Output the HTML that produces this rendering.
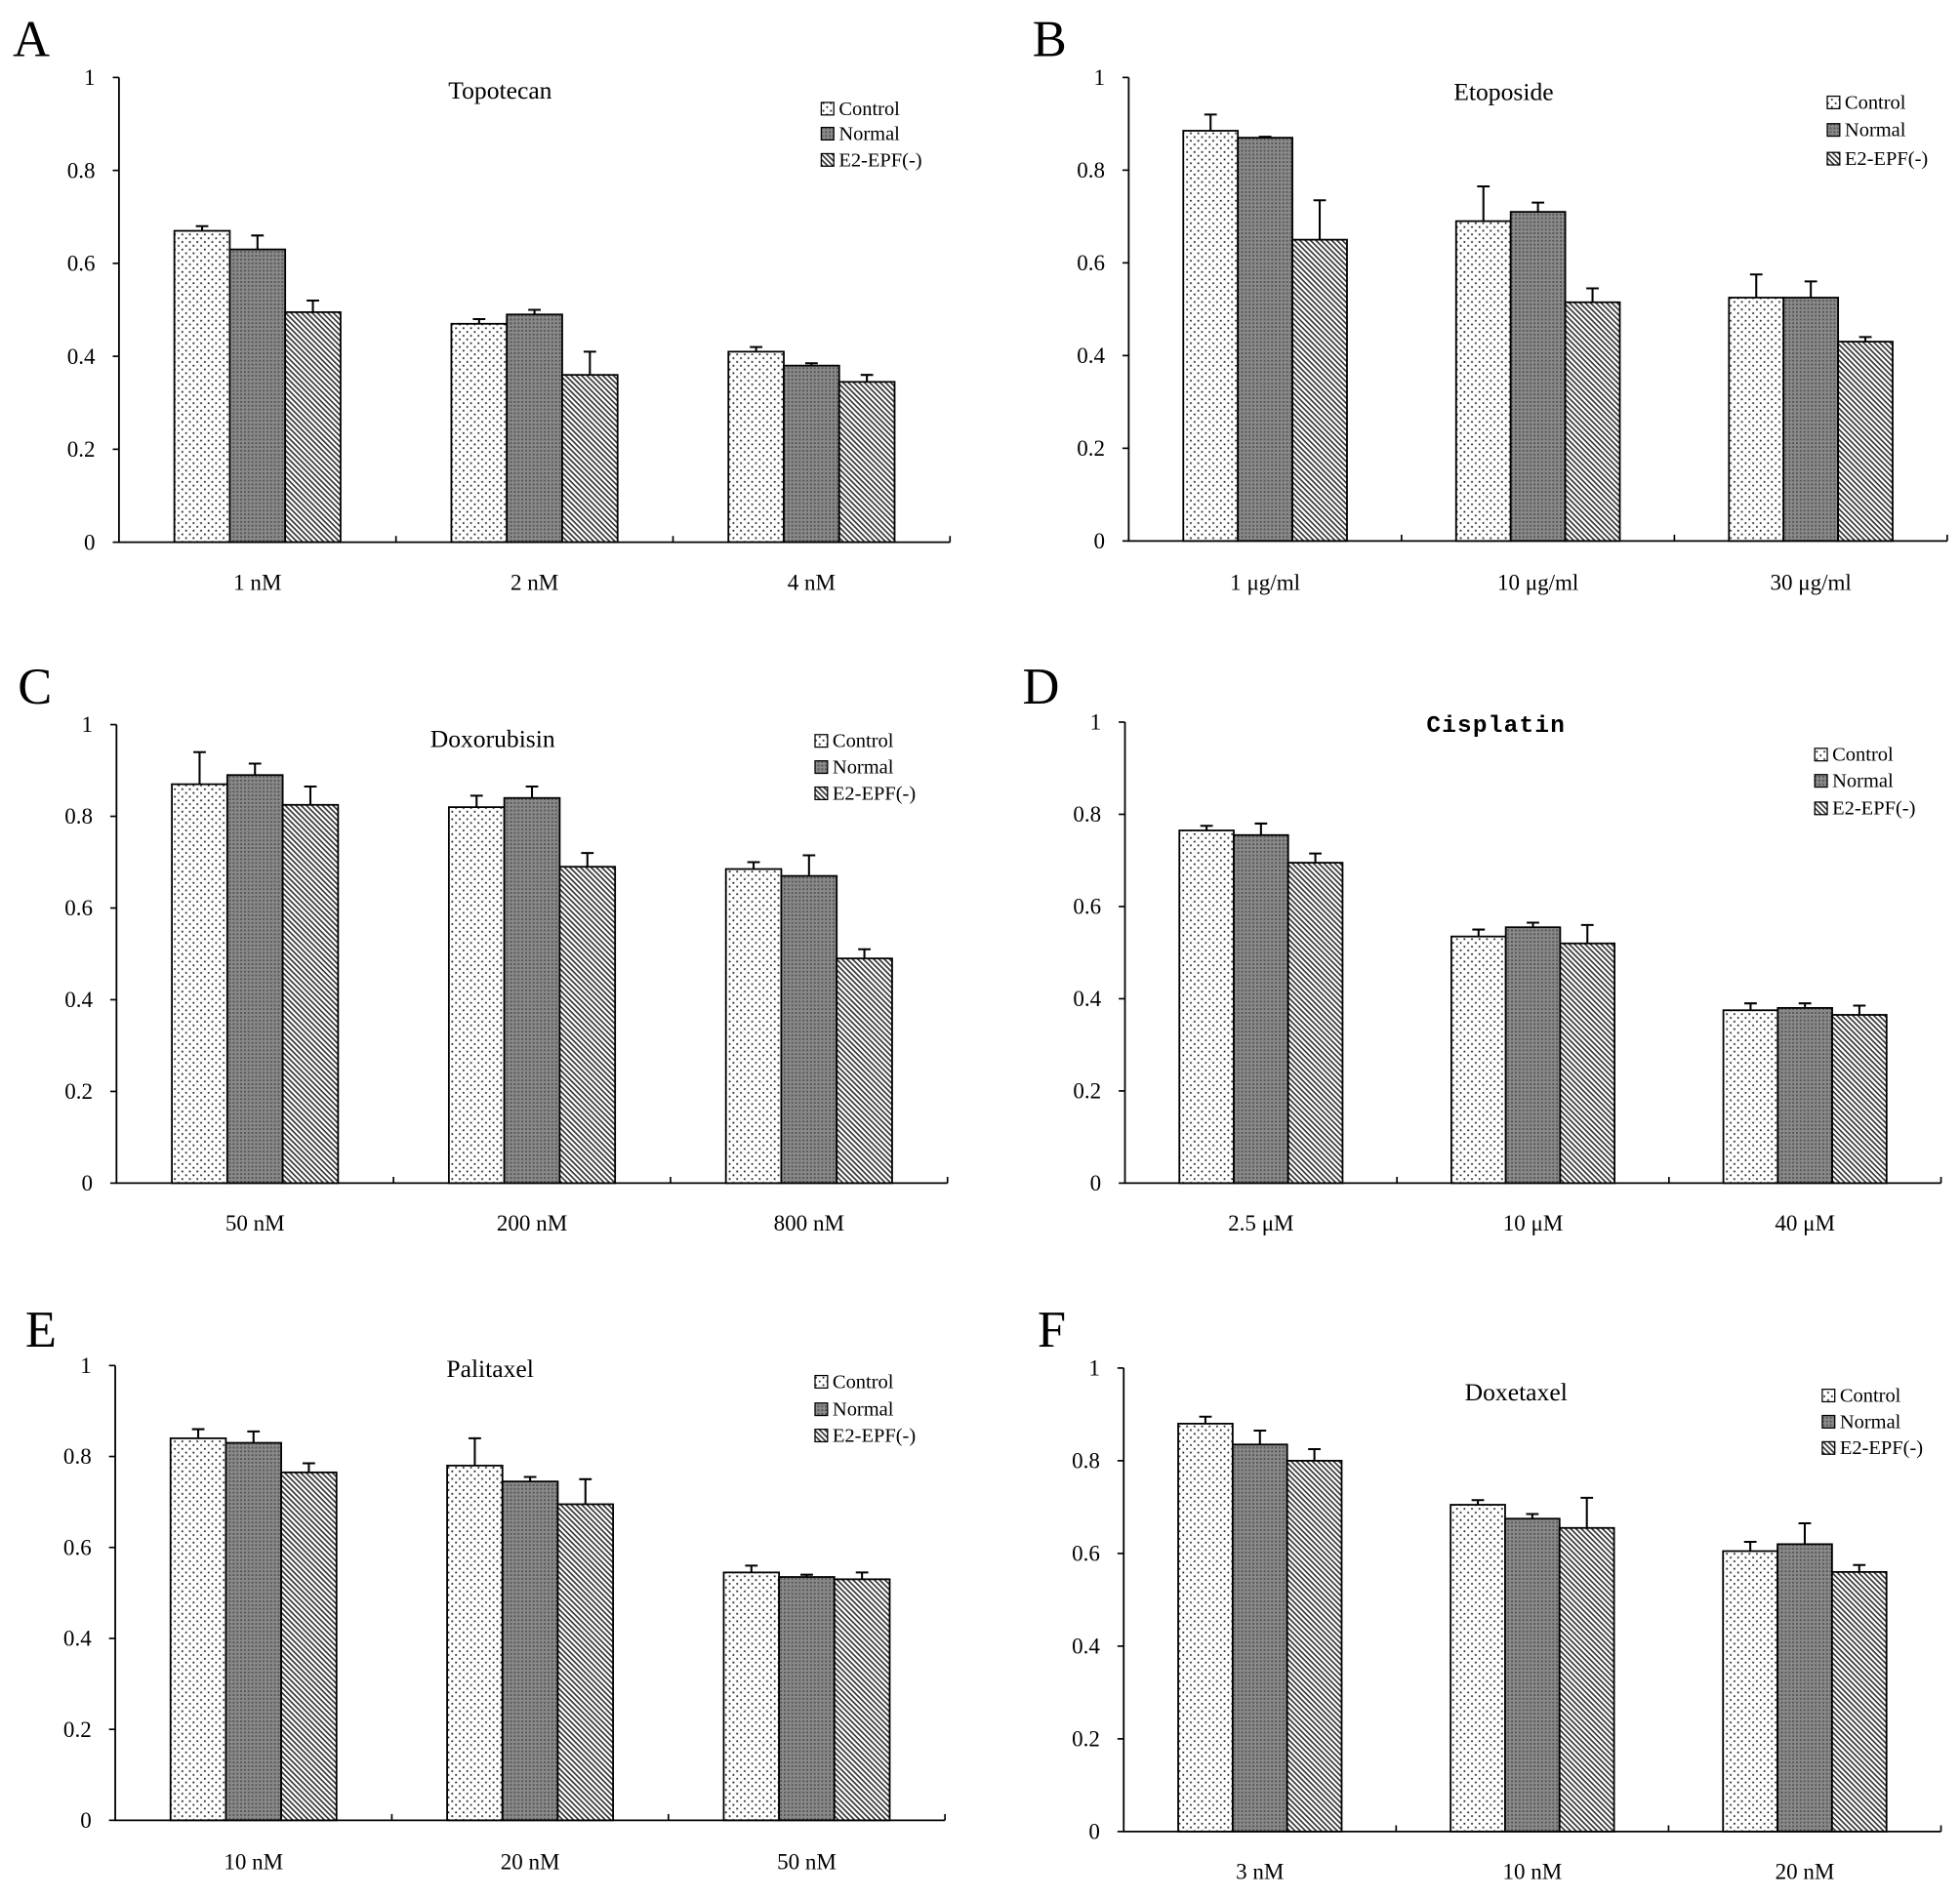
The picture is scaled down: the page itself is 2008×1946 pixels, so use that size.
<!DOCTYPE html>
<html><head><meta charset="utf-8"><style>
html,body{margin:0;padding:0;background:#fff}
svg{display:block}
</style></head><body>
<svg id="fig" width="2008" height="1946" viewBox="0 0 1568 1520" xmlns="http://www.w3.org/2000/svg" font-family="Liberation Serif, serif">
<defs>
<pattern id="pDots" width="6" height="6" patternUnits="userSpaceOnUse"><rect width="6" height="6" fill="#fff"/><rect x="1" y="1" width="1.4" height="1.4" fill="#222"/><rect x="4" y="4" width="1.4" height="1.4" fill="#222"/></pattern>
<pattern id="pGray" width="3" height="3" patternUnits="userSpaceOnUse"><rect width="3" height="3" fill="#8a8a8a"/><rect width="1.5" height="1.5" fill="#555"/></pattern>
<pattern id="pDiag" width="3" height="3" patternUnits="userSpaceOnUse" patternTransform="rotate(45)"><rect width="3" height="3" fill="#fff"/><rect width="3" height="1.3" fill="#333"/></pattern>
</defs>
</svg>
<script>
const seriesNames=["Control","Normal","E2-EPF(-)"];
const titles=["Topotecan","Etoposide","Doxorubisin","Cisplatin","Palitaxel","Doxetaxel"];
const letters=["A","B","C","D","E","F"];
const categoriesA=["1 nM","2 nM","4 nM"];
const categoriesB=["1 μg/ml","10 μg/ml","30 μg/ml"];
const categoriesC=["50 nM","200 nM","800 nM"];
const categoriesD=["2.5 μM","10 μM","40 μM"];
const categoriesE=["10 nM","20 nM","50 nM"];
const categoriesF=["3 nM","10 nM","20 nM"];
const controlA=[0.67,0.47,0.41], controlErrA=[0.68,0.48,0.42];
const normalA=[0.63,0.49,0.38], normalErrA=[0.66,0.50,0.385];
const e2A=[0.495,0.36,0.345], e2ErrA=[0.52,0.41,0.36];
const controlB=[0.885,0.69,0.525], controlErrB=[0.92,0.765,0.575];
const normalB=[0.87,0.71,0.525], normalErrB=[0.872,0.73,0.56];
const e2B=[0.65,0.515,0.43], e2ErrB=[0.735,0.545,0.44];
const controlC=[0.87,0.82,0.685], controlErrC=[0.94,0.845,0.70];
const normalC=[0.89,0.84,0.67], normalErrC=[0.915,0.865,0.715];
const e2C=[0.825,0.69,0.49], e2ErrC=[0.865,0.72,0.51];
const controlD=[0.765,0.535,0.375], controlErrD=[0.775,0.55,0.39];
const normalD=[0.755,0.555,0.38], normalErrD=[0.78,0.565,0.39];
const e2D=[0.695,0.52,0.365], e2ErrD=[0.715,0.56,0.385];
const controlE=[0.84,0.78,0.545], controlErrE=[0.86,0.84,0.56];
const normalE=[0.83,0.745,0.535], normalErrE=[0.855,0.755,0.54];
const e2E=[0.765,0.695,0.53], e2ErrE=[0.785,0.75,0.545];
const controlF=[0.88,0.705,0.605], controlErrF=[0.895,0.715,0.625];
const normalF=[0.835,0.675,0.62], normalErrF=[0.865,0.685,0.665];
const e2F=[0.80,0.655,0.56], e2ErrF=[0.825,0.72,0.575];
const yTicks=[0,0.2,0.4,0.6,0.8,1];
const yTickLabels=["0","0.2","0.4","0.6","0.8","1"];

const panels=[
 {x0:95,x1:760,y0:434,y1:62,tx:400,ty:79,lx:657,ly:[87,107,128],cy:472,L:[10,45],cats:categoriesA,v:[controlA,normalA,e2A],e:[controlErrA,normalErrA,e2ErrA]},
 {x0:903,x1:1558,y0:433,y1:62,tx:1203,ty:80,lx:1462,ly:[82,104,127],cy:472,L:[826,45],cats:categoriesB,v:[controlB,normalB,e2B],e:[controlErrB,normalErrB,e2ErrB]},
 {x0:93,x1:758,y0:947,y1:580,tx:394,ty:598,lx:652,ly:[593,614,635],cy:985,L:[14,563],cats:categoriesC,v:[controlC,normalC,e2C],e:[controlErrC,normalErrC,e2ErrC]},
 {x0:900,x1:1553,y0:947,y1:578,tx:1197,ty:586,lx:1452,ly:[604,625,647],cy:985,L:[818,563],cats:categoriesD,v:[controlD,normalD,e2D],e:[controlErrD,normalErrD,e2ErrD],bold:true},
 {x0:92,x1:756,y0:1457,y1:1093,tx:392,ty:1102,lx:652,ly:[1106,1128,1149],cy:1496,L:[20,1078],cats:categoriesE,v:[controlE,normalE,e2E],e:[controlErrE,normalErrE,e2ErrE]},
 {x0:899,x1:1553,y0:1466,y1:1095,tx:1213,ty:1121,lx:1458,ly:[1117,1138,1159],cy:1504,L:[830,1078],cats:categoriesF,v:[controlF,normalF,e2F],e:[controlErrF,normalErrF,e2ErrF]}
];
const fills=["url(#pDots)","url(#pGray)","url(#pDiag)"];
const NS="http://www.w3.org/2000/svg";
const svg=document.getElementById("fig");
function mk(tag,attrs,parent,txt){const el=document.createElementNS(NS,tag);for(const k in attrs)el.setAttribute(k,attrs[k]);if(txt!==undefined)el.textContent=txt;parent.appendChild(el);return el;}
panels.forEach((p,pi)=>{
 const g=mk("g",{},svg);
 
 
 const yScale=v=>p.y0-(p.y0-p.y1)*v;
 const gw=(p.x1-p.x0)/3, bw=gw*0.2;
 const xScale=(c,s)=>p.x0+gw*c+bw*(1+s);
 const lt=mk("text",{x:p.L[0],y:p.L[1],"font-size":41},g,letters[pi]);
 
 
 const tt=mk("text",{x:p.tx,y:p.ty,"font-size":p.bold?19:20,"text-anchor":"middle","font-weight":p.bold?"bold":"normal","font-family":p.bold?"Liberation Mono, monospace":"Liberation Serif, serif","letter-spacing":p.bold?"1":"0"},g,titles[pi]);
 
 
 p.v.forEach((vals,s)=>{vals.forEach((v,c)=>{
  const x=xScale(c,s), y=yScale(v);
  const r=mk("rect",{x:x,y:y,width:bw,height:p.y0-y,fill:fills[s],stroke:"#000","stroke-width":1.4},g);
  
  
  const ey=yScale(p.e[s][c]), cx=x+bw/2;
  const eb=mk("path",{d:`M${cx} ${y}V${ey}M${cx-5} ${ey}H${cx+5}`,stroke:"#000","stroke-width":1.6,fill:"none"},g);
  
  
 });});
 const ax=mk("path",{d:`M${p.x0} ${p.y1}V${p.y0}H${p.x1}`,stroke:"#000","stroke-width":1.4,fill:"none"},g);
 
 
 yTicks.forEach((t,i)=>{
  const y=yScale(t);
  mk("path",{d:`M${p.x0-5} ${y}H${p.x0}`,stroke:"#000","stroke-width":1.3},g);
  const tl=mk("text",{x:p.x0-19,y:y+6,"font-size":18,"text-anchor":"end"},g,yTickLabels[i]);
  
  
 });
 for(let c=1;c<=3;c++){const x=p.x0+gw*c;mk("path",{d:`M${x} ${p.y0}V${p.y0-5}`,stroke:"#000","stroke-width":1.3},g);}
 p.cats.forEach((cat,c)=>{
  const cl=mk("text",{x:p.x0+gw*(c+0.5),y:p.cy,"font-size":18,"text-anchor":"middle"},g,cat);
  
  
 });
 seriesNames.forEach((n,s)=>{
  const le=mk("g",{},g);
  
  
  mk("rect",{x:p.lx,y:p.ly[s]-5,width:10,height:10,fill:fills[s],stroke:"#000","stroke-width":1},le);
  mk("text",{x:p.lx+14,y:p.ly[s]+5,"font-size":16},le,n);
 });
});
</script>
</body></html>
